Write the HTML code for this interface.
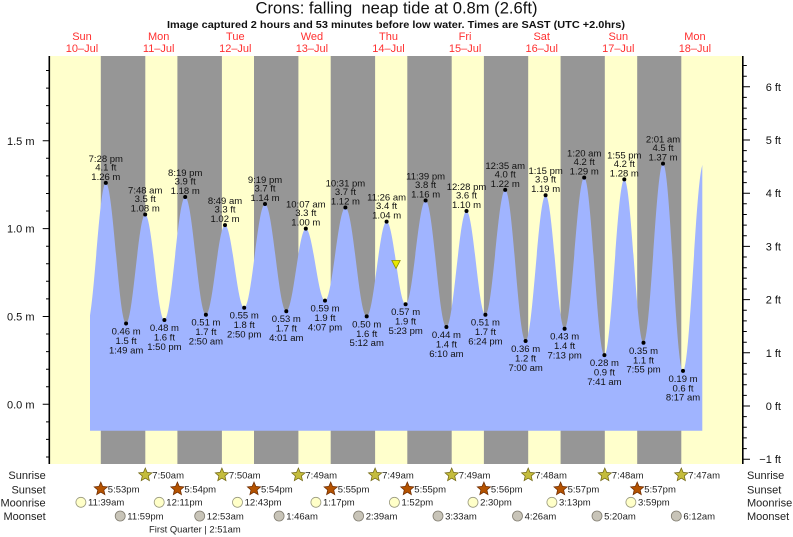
<!DOCTYPE html>
<html><head><meta charset="utf-8"><style>
html,body{margin:0;padding:0;background:#fff;}
svg{display:block;font-family:"Liberation Sans",Arial,sans-serif;}
.t{font-size:9.5px;fill:#111;text-anchor:middle;}
.r{font-size:9.5px;fill:#222;}
.lab{font-size:11px;fill:#222;}
.day{font-size:11px;fill:#ff3030;text-anchor:middle;}
.ax{font-size:11px;fill:#111;}
</style></head><body>
<svg width="793" height="537" viewBox="0 0 793 537" xmlns="http://www.w3.org/2000/svg">
<defs>
<path id="star" d="M0,-7 L1.88,-2.59 L6.66,-2.16 L3.04,0.99 L4.11,5.66 L0,3.2 L-4.11,5.66 L-3.04,0.99 L-6.66,-2.16 L-1.88,-2.59 Z"/>
<clipPath id="pc"><rect x="90" y="50" width="612.3" height="400"/></clipPath>
</defs>
<rect width="793" height="537" fill="#fff"/>
<text x="396.5" y="13.5" font-size="16.5" text-anchor="middle" fill="#111" style="white-space:pre" textLength="282" lengthAdjust="spacingAndGlyphs">Crons: falling  neap tide at 0.8m (2.6ft)</text>
<text x="396" y="28" font-size="10.5" font-weight="bold" text-anchor="middle" fill="#111" textLength="458" lengthAdjust="spacingAndGlyphs">Image captured 2 hours and 53 minutes before low water. Times are SAST (UTC +2.0hrs)</text>
<g class="day">
<text x="82" y="40">Sun</text><text x="82" y="52">10–Jul</text>
<text x="158.7" y="40">Mon</text><text x="158.7" y="52">11–Jul</text>
<text x="235.3" y="40">Tue</text><text x="235.3" y="52">12–Jul</text>
<text x="311.9" y="40">Wed</text><text x="311.9" y="52">13–Jul</text>
<text x="388.5" y="40">Thu</text><text x="388.5" y="52">14–Jul</text>
<text x="465.1" y="40">Fri</text><text x="465.1" y="52">15–Jul</text>
<text x="541.7" y="40">Sat</text><text x="541.7" y="52">16–Jul</text>
<text x="618.3" y="40">Sun</text><text x="618.3" y="52">17–Jul</text>
<text x="694.9" y="40">Mon</text><text x="694.9" y="52">18–Jul</text>
</g>
<!-- plot background -->
<rect x="50" y="56" width="692.5" height="408" fill="#ffffcc"/>
<g fill="#969696">
<rect x="100.8" y="56" width="44.5" height="408"/>
<rect x="177.4" y="56" width="44.5" height="408"/>
<rect x="254.0" y="56" width="44.4" height="408"/>
<rect x="330.7" y="56" width="44.4" height="408"/>
<rect x="407.3" y="56" width="44.4" height="408"/>
<rect x="483.9" y="56" width="44.3" height="408"/>
<rect x="560.6" y="56" width="44.2" height="408"/>
<rect x="637.2" y="56" width="44.1" height="408"/>
</g>
<!-- tide -->
<path clip-path="url(#pc)" fill="#a0b4ff" d="M86.8,325.2
c6.9,0 12.1,-142.3 19.0,-142.3
c7.38,0 12.92,140.6 20.3,140.6
c6.94,0 12.16,-109 19.1,-109
c6.98,0 12.22,105.5 19.2,105.5
c7.56,0 13.24,-123 20.8,-123
c7.52,0 13.18,117.7 20.7,117.7
c6.94,0 12.16,-89.6 19.1,-89.6
c6.98,0 12.22,82.6 19.2,82.6
c7.56,0 13.24,-103.7 20.8,-103.7
c7.74,0 13.56,107.2 21.3,107.2
c7.09,0 12.41,-82.6 19.5,-82.6
c6.98,0 12.22,72 19.2,72
c7.41,0 12.99,-93.1 20.4,-93.1
c7.74,0 13.56,108.9 21.3,108.9
c7.23,0 12.67,-94.8 19.9,-94.8
c6.9,0 12.1,82.6 19,82.6
c7.27,0 12.73,-103.7 20,-103.7
c7.56,0 13.24,126.5 20.8,126.5
c7.3,0 12.8,-116 20.1,-116
c6.87,0 12.03,103.7 18.9,103.7
c7.2,0 12.6,-124.8 19.8,-124.8
c7.41,0 12.99,151.1 20.4,151.1
c7.27,0 12.73,-145.8 20,-145.8
c6.9,0 12.1,133.5 19,133.5
c7.12,0 12.48,-151.1 19.6,-151.1
c7.34,0 12.86,177.5 20.2,177.5
c7.23,0 12.67,-175.7 19.9,-175.7
c6.98,0 12.22,163.4 19.2,163.4
c7.09,0 12.41,-179.2 19.5,-179.2
c7.27,0 12.73,207.3 20,207.3
c7.45,0 13.05,-207.3 20.5,-207.3
L703.5,430.7 L86.8,430.7 Z"/>
<!-- axes -->
<line x1="49.3" y1="56" x2="49.3" y2="464" stroke="#000" stroke-width="1.6"/>
<line x1="742.8" y1="56" x2="742.8" y2="464" stroke="#000" stroke-width="1.6"/>
<path stroke="#000" stroke-width="1" fill="none" d="
M46,457.0h3.3 M46,439.4h3.3 M46,421.9h3.3 M42.7,404.3h6.6 M46,386.7h3.3 M46,369.2h3.3 M46,351.6h3.3 M46,334.0h3.3
M42.7,316.5h6.6 M46,298.9h3.3 M46,281.3h3.3 M46,263.7h3.3 M46,246.2h3.3 M42.7,228.6h6.6 M46,211.0h3.3 M46,193.5h3.3
M46,175.9h3.3 M46,158.3h3.3 M42.7,140.8h6.6 M46,123.2h3.3 M46,105.6h3.3 M46,88.1h3.3 M46,70.5h3.3"/>
<path stroke="#000" stroke-width="1" fill="none" d="
M742.8,459.2h7.2 M742.8,448.6h4 M742.8,437.9h4 M742.8,427.3h4 M742.8,416.6h4 M742.8,406h7.2
M742.8,395.4h4 M742.8,384.7h4 M742.8,374.1h4 M742.8,363.4h4 M742.8,352.8h7.2
M742.8,342.2h4 M742.8,331.5h4 M742.8,320.9h4 M742.8,310.2h4 M742.8,299.6h7.2
M742.8,289.0h4 M742.8,278.3h4 M742.8,267.7h4 M742.8,257.0h4 M742.8,246.4h7.2
M742.8,235.8h4 M742.8,225.1h4 M742.8,214.5h4 M742.8,203.8h4 M742.8,193.2h7.2
M742.8,182.6h4 M742.8,171.9h4 M742.8,161.3h4 M742.8,150.6h4 M742.8,140.0h7.2
M742.8,129.4h4 M742.8,118.7h4 M742.8,108.1h4 M742.8,97.4h4 M742.8,86.8h7.2
M742.8,76.2h4 M742.8,65.5h4"/>
<g class="ax" text-anchor="end">
<text x="34.5" y="408.3">0.0 m</text>
<text x="34.5" y="320.5">0.5 m</text>
<text x="34.5" y="232.6">1.0 m</text>
<text x="34.5" y="144.8">1.5 m</text>
<text x="781" y="463.2">−1 ft</text>
<text x="781" y="410">0 ft</text>
<text x="781" y="356.8">1 ft</text>
<text x="781" y="303.6">2 ft</text>
<text x="781" y="250.4">3 ft</text>
<text x="781" y="197.2">4 ft</text>
<text x="781" y="144">5 ft</text>
<text x="781" y="90.8">6 ft</text>
</g>
<!-- highs -->
<g class="t">
<g transform="translate(105.8,182.9)"><circle r="2" fill="#000"/><text y="-21">7:28 pm</text><text y="-12.5">4.1 ft</text><text y="-3">1.26 m</text></g>
<g transform="translate(145.2,214.5)"><circle r="2" fill="#000"/><text y="-21">7:48 am</text><text y="-12.5">3.5 ft</text><text y="-3">1.08 m</text></g>
<g transform="translate(185.2,197.0)"><circle r="2" fill="#000"/><text y="-21">8:19 pm</text><text y="-12.5">3.9 ft</text><text y="-3">1.18 m</text></g>
<g transform="translate(225.0,225.1)"><circle r="2" fill="#000"/><text y="-21">8:49 am</text><text y="-12.5">3.3 ft</text><text y="-3">1.02 m</text></g>
<g transform="translate(265.0,204.0)"><circle r="2" fill="#000"/><text y="-21">9:19 pm</text><text y="-12.5">3.7 ft</text><text y="-3">1.14 m</text></g>
<g transform="translate(305.8,228.6)"><circle r="2" fill="#000"/><text y="-21">10:07 am</text><text y="-12.5">3.3 ft</text><text y="-3">1.00 m</text></g>
<g transform="translate(345.4,207.5)"><circle r="2" fill="#000"/><text y="-21">10:31 pm</text><text y="-12.5">3.7 ft</text><text y="-3">1.12 m</text></g>
<g transform="translate(386.6,221.6)"><circle r="2" fill="#000"/><text y="-21">11:26 am</text><text y="-12.5">3.4 ft</text><text y="-3">1.04 m</text></g>
<g transform="translate(425.6,200.5)"><circle r="2" fill="#000"/><text y="-21">11:39 pm</text><text y="-12.5">3.8 ft</text><text y="-3">1.16 m</text></g>
<g transform="translate(466.5,211.0)"><circle r="2" fill="#000"/><text y="-21">12:28 pm</text><text y="-12.5">3.6 ft</text><text y="-3">1.10 m</text></g>
<g transform="translate(505.2,189.9)"><circle r="2" fill="#000"/><text y="-21">12:35 am</text><text y="-12.5">4.0 ft</text><text y="-3">1.22 m</text></g>
<g transform="translate(545.6,195.2)"><circle r="2" fill="#000"/><text y="-21">1:15 pm</text><text y="-12.5">3.9 ft</text><text y="-3">1.19 m</text></g>
<g transform="translate(584.2,177.6)"><circle r="2" fill="#000"/><text y="-21">1:20 am</text><text y="-12.5">4.2 ft</text><text y="-3">1.29 m</text></g>
<g transform="translate(624.3,179.4)"><circle r="2" fill="#000"/><text y="-21">1:55 pm</text><text y="-12.5">4.2 ft</text><text y="-3">1.28 m</text></g>
<g transform="translate(663.0,163.6)"><circle r="2" fill="#000"/><text y="-21">2:01 am</text><text y="-12.5">4.5 ft</text><text y="-3">1.37 m</text></g>
</g>
<!-- lows -->
<g class="t">
<g transform="translate(126.1,323.5)"><circle r="2" fill="#000"/><text y="11">0.46 m</text><text y="20.5">1.5 ft</text><text y="29.8">1:49 am</text></g>
<g transform="translate(164.4,320.0)"><circle r="2" fill="#000"/><text y="11">0.48 m</text><text y="20.5">1.6 ft</text><text y="29.8">1:50 pm</text></g>
<g transform="translate(205.9,314.7)"><circle r="2" fill="#000"/><text y="11">0.51 m</text><text y="20.5">1.7 ft</text><text y="29.8">2:50 am</text></g>
<g transform="translate(244.2,307.7)"><circle r="2" fill="#000"/><text y="11">0.55 m</text><text y="20.5">1.8 ft</text><text y="29.8">2:50 pm</text></g>
<g transform="translate(286.3,311.2)"><circle r="2" fill="#000"/><text y="11">0.53 m</text><text y="20.5">1.7 ft</text><text y="29.8">4:01 am</text></g>
<g transform="translate(325.0,300.6)"><circle r="2" fill="#000"/><text y="11">0.59 m</text><text y="20.5">1.9 ft</text><text y="29.8">4:07 pm</text></g>
<g transform="translate(366.7,316.4)"><circle r="2" fill="#000"/><text y="11">0.50 m</text><text y="20.5">1.6 ft</text><text y="29.8">5:12 am</text></g>
<g transform="translate(405.6,304.2)"><circle r="2" fill="#000"/><text y="11">0.57 m</text><text y="20.5">1.9 ft</text><text y="29.8">5:23 pm</text></g>
<g transform="translate(446.4,327.0)"><circle r="2" fill="#000"/><text y="11">0.44 m</text><text y="20.5">1.4 ft</text><text y="29.8">6:10 am</text></g>
<g transform="translate(485.4,314.7)"><circle r="2" fill="#000"/><text y="11">0.51 m</text><text y="20.5">1.7 ft</text><text y="29.8">6:24 pm</text></g>
<g transform="translate(525.6,341.0)"><circle r="2" fill="#000"/><text y="11">0.36 m</text><text y="20.5">1.2 ft</text><text y="29.8">7:00 am</text></g>
<g transform="translate(564.6,328.7)"><circle r="2" fill="#000"/><text y="11">0.43 m</text><text y="20.5">1.4 ft</text><text y="29.8">7:13 pm</text></g>
<g transform="translate(604.4,355.1)"><circle r="2" fill="#000"/><text y="11">0.28 m</text><text y="20.5">0.9 ft</text><text y="29.8">7:41 am</text></g>
<g transform="translate(643.5,342.8)"><circle r="2" fill="#000"/><text y="11">0.35 m</text><text y="20.5">1.1 ft</text><text y="29.8">7:55 pm</text></g>
<g transform="translate(683.0,370.9)"><circle r="2" fill="#000"/><text y="11">0.19 m</text><text y="20.5">0.6 ft</text><text y="29.8">8:17 am</text></g>
</g>
<!-- current marker -->
<polygon points="391.8,260.5 400.2,260.5 396,268.5" fill="#e8e800" stroke="#8a8a00" stroke-width="0.8"/>
<!-- bottom table -->
<g class="lab" text-anchor="end">
<text x="45.7" y="479">Sunrise</text>
<text x="45.7" y="493.3">Sunset</text>
<text x="45.7" y="506.3">Moonrise</text>
<text x="45.7" y="520">Moonset</text>
</g>
<g class="lab">
<text x="747" y="479">Sunrise</text>
<text x="747" y="493.3">Sunset</text>
<text x="747" y="506.3">Moonrise</text>
<text x="747" y="520">Moonset</text>
</g>
<g fill="#c4bc3c" stroke="#6e6410" stroke-width="0.7">
<use href="#star" x="145.3" y="475"/><use href="#star" x="221.9" y="475"/><use href="#star" x="298.4" y="475"/><use href="#star" x="375.1" y="475"/>
<use href="#star" x="451.7" y="475"/><use href="#star" x="528.2" y="475"/><use href="#star" x="604.8" y="475"/><use href="#star" x="681.3" y="475"/>
</g>
<g class="r">
<text x="152.3" y="478.4">7:50am</text><text x="228.9" y="478.4">7:50am</text><text x="305.4" y="478.4">7:49am</text><text x="382.1" y="478.4">7:49am</text>
<text x="458.7" y="478.4">7:49am</text><text x="535.2" y="478.4">7:48am</text><text x="611.8" y="478.4">7:48am</text><text x="688.3" y="478.4">7:47am</text>
</g>
<g fill="#b45200" stroke="#6a2a00" stroke-width="0.7">
<use href="#star" x="100.8" y="489"/><use href="#star" x="177.4" y="489"/><use href="#star" x="254.0" y="489"/><use href="#star" x="330.7" y="489"/>
<use href="#star" x="407.3" y="489"/><use href="#star" x="483.9" y="489"/><use href="#star" x="560.6" y="489"/><use href="#star" x="637.2" y="489"/>
</g>
<g class="r">
<text x="107.8" y="492.6">5:53pm</text><text x="184.4" y="492.6">5:54pm</text><text x="261" y="492.6">5:54pm</text><text x="337.7" y="492.6">5:55pm</text>
<text x="414.3" y="492.6">5:55pm</text><text x="490.9" y="492.6">5:56pm</text><text x="567.6" y="492.6">5:57pm</text><text x="644.2" y="492.6">5:57pm</text>
</g>
<g fill="#ffffc8" stroke="#9a9a80" stroke-width="0.8">
<circle cx="80.9" cy="502.3" r="5"/><circle cx="159.2" cy="502.3" r="5"/><circle cx="237.5" cy="502.3" r="5"/><circle cx="315.9" cy="502.3" r="5"/>
<circle cx="394.4" cy="502.3" r="5"/><circle cx="473.0" cy="502.3" r="5"/><circle cx="551.9" cy="502.3" r="5"/><circle cx="630.9" cy="502.3" r="5"/>
</g>
<g class="r">
<text x="88" y="505.7">11:39am</text><text x="166.3" y="505.7">12:11pm</text><text x="244.6" y="505.7">12:43pm</text><text x="323" y="505.7">1:17pm</text>
<text x="401.5" y="505.7">1:52pm</text><text x="480.1" y="505.7">2:30pm</text><text x="559" y="505.7">3:13pm</text><text x="638" y="505.7">3:59pm</text>
</g>
<g fill="#c8c4b8" stroke="#807c70" stroke-width="0.8">
<circle cx="120.2" cy="516" r="5"/><circle cx="199.7" cy="516" r="5"/><circle cx="279.1" cy="516" r="5"/><circle cx="358.6" cy="516" r="5"/>
<circle cx="438.0" cy="516" r="5"/><circle cx="517.5" cy="516" r="5"/><circle cx="597.0" cy="516" r="5"/><circle cx="676.3" cy="516" r="5"/>
</g>
<g class="r">
<text x="127.3" y="519.4">11:59pm</text><text x="206.8" y="519.4">12:53am</text><text x="286.2" y="519.4">1:46am</text><text x="365.7" y="519.4">2:39am</text>
<text x="445.1" y="519.4">3:33am</text><text x="524.6" y="519.4">4:26am</text><text x="604.1" y="519.4">5:20am</text><text x="683.4" y="519.4">6:12am</text>
</g>
<text class="r" x="149" y="532.7" textLength="91.7" lengthAdjust="spacingAndGlyphs">First Quarter | 2:51am</text>
</svg>
</body></html>
